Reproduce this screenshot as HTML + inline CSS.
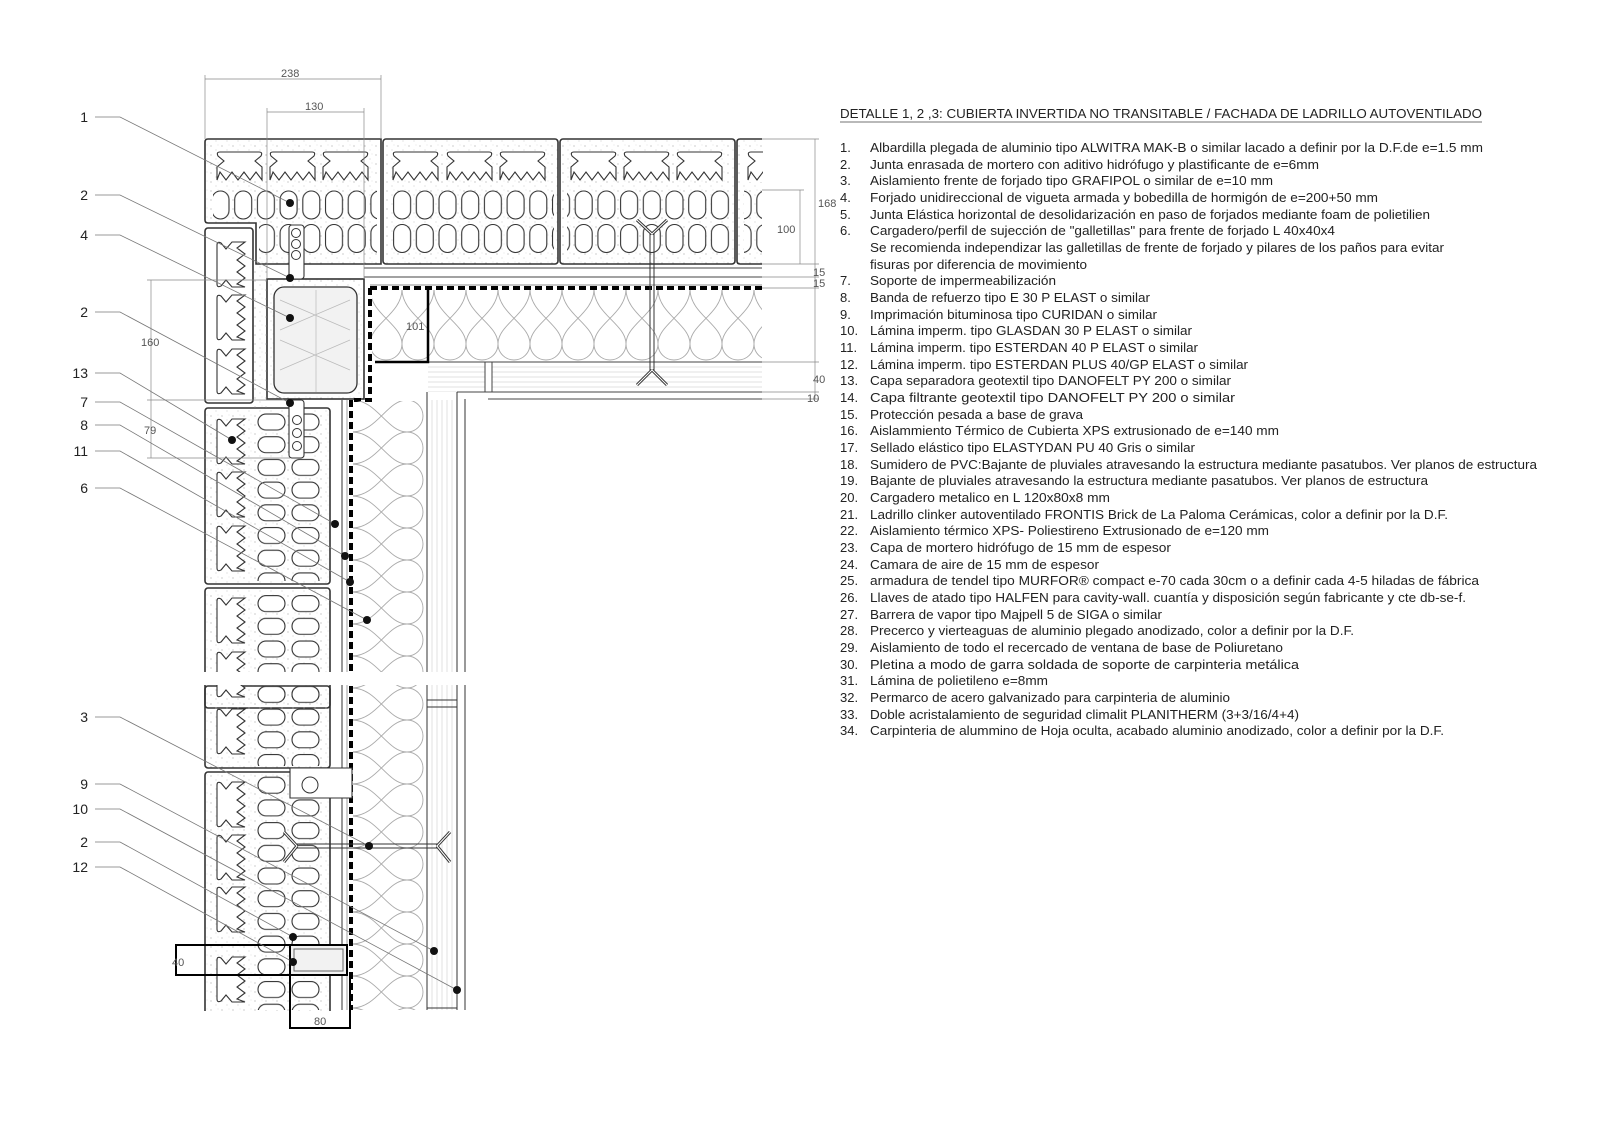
<!DOCTYPE html>
<html><head><meta charset="utf-8"><style>
html,body{margin:0;padding:0;background:#fff;}
svg{display:block;}
.t{font-family:"Liberation Sans",sans-serif;font-size:13px;fill:#222;}
.n{font-family:"Liberation Sans",sans-serif;font-size:14px;fill:#222;text-anchor:end;}
.d{font-family:"Liberation Sans",sans-serif;font-size:11px;fill:#555;}
.ld{stroke:#777;stroke-width:0.8;fill:none;}
.dm{stroke:#888;stroke-width:0.7;fill:none;}
</style></head><body>
<svg width="1612" height="1140" viewBox="0 0 1612 1140" xmlns="http://www.w3.org/2000/svg">
<defs>
<pattern id="stip" patternUnits="userSpaceOnUse" width="11" height="9">
<circle cx="2" cy="2" r="0.6" fill="#aaa"/><circle cx="7" cy="6" r="0.5" fill="#bbb"/><circle cx="9" cy="1" r="0.4" fill="#bbb"/>
</pattern>
<pattern id="hh" patternUnits="userSpaceOnUse" x="210" y="189" width="22.7" height="33.5">
<rect x="2" y="2" width="17" height="28" rx="8.5" fill="#fff" stroke="#333" stroke-width="1.1"/>
</pattern>
<pattern id="hv" patternUnits="userSpaceOnUse" x="257" y="411" width="34" height="22.7">
<rect x="1" y="3" width="27" height="16" rx="8" fill="#fff" stroke="#333" stroke-width="1.1"/>
</pattern>
<pattern id="insH" patternUnits="userSpaceOnUse" x="370" y="289" width="32" height="73">
<path d="M0,0 C0,25 32,35 32,55 A16,16 0 0 1 0,55 C0,35 32,25 32,0" fill="none" stroke="#aaa" stroke-width="0.9"/>
</pattern>
<pattern id="insV" patternUnits="userSpaceOnUse" x="352" y="400" width="76" height="32">
<path d="M0,0 C25,0 35,32 55,32 A16,16 0 0 0 55,0 C35,0 25,32 0,32" fill="none" stroke="#aaa" stroke-width="0.9"/>
</pattern>
<pattern id="vh" patternUnits="userSpaceOnUse" width="5" height="10">
<line x1="2" y1="0" x2="2" y2="10" stroke="#ccc" stroke-width="0.6"/>
</pattern>
<pattern id="hl" patternUnits="userSpaceOnUse" width="10" height="5">
<line x1="0" y1="2" x2="10" y2="2" stroke="#ccc" stroke-width="0.6"/>
</pattern>
<path id="comb" d="M3,0 H42 Q46,0 44,4 L38,9 L45,15 L45,28 L39,20 L33,28 L27,20 L21,28 L15,20 L9,28 L3,20 L0,28 L0,15 L7,9 L1,4 Q-1,0 3,0 Z" fill="#fff" stroke="#333" stroke-width="1.1"/>
</defs>

<!-- TOP BRICK ROW -->
<g stroke="#333" stroke-width="1.6">
<path d="M208,139 H381 V264 H256 V223 H208 Q205,223 205,220 V142 Q205,139 208,139 Z" fill="url(#stip)"/>
<rect x="383" y="139" width="175" height="125" rx="3" fill="url(#stip)"/>
<rect x="560" y="139" width="175" height="125" rx="3" fill="url(#stip)"/>
<path d="M762,139 H740 Q737,139 737,142 V261 Q737,264 740,264 H762" fill="url(#stip)"/>
</g>
<rect x="213" y="189" width="164" height="34" fill="url(#hh)"/>
<rect x="259" y="223" width="118" height="34" fill="url(#hh)"/>
<rect x="390" y="189" width="164" height="68" fill="url(#hh)"/>
<rect x="567" y="189" width="164" height="68" fill="url(#hh)"/>
<rect x="744" y="189" width="18" height="68" fill="url(#hh)"/>
<g>
<use href="#comb" x="217" y="152"/><use href="#comb" x="270" y="152"/><use href="#comb" x="323" y="152"/>
<use href="#comb" x="393" y="152"/><use href="#comb" x="447" y="152"/><use href="#comb" x="500" y="152"/>
<use href="#comb" x="571" y="152"/><use href="#comb" x="624" y="152"/><use href="#comb" x="677" y="152"/>
</g>
<rect x="741" y="150" width="22" height="32" fill="#fff"/>
<use href="#comb" x="748" y="152"/>
<rect x="763" y="140" width="40" height="125" fill="#fff"/>

<!-- horizontal roof layers -->
<g stroke="#444" stroke-width="1">
<line x1="364" y1="268" x2="762" y2="268"/>
<line x1="364" y1="277" x2="762" y2="277"/>
</g>
<rect x="372" y="290" width="390" height="72" fill="url(#insH)"/>
<line x1="370" y1="288" x2="762" y2="288" stroke="#000" stroke-width="4" stroke-dasharray="7,4"/>
<line x1="370" y1="285" x2="762" y2="285" stroke="#666" stroke-width="0.7"/>
<line x1="375" y1="362" x2="762" y2="362" stroke="#444" stroke-width="1"/>
<rect x="428" y="363" width="334" height="29" fill="url(#hl)"/>
<rect x="485" y="362" width="7" height="30" fill="#fff" stroke="#444" stroke-width="1"/>
<line x1="457" y1="392" x2="762" y2="392" stroke="#444" stroke-width="1"/>
<line x1="488" y1="399" x2="762" y2="399" stroke="#444" stroke-width="1"/>
<path d="M375,362 H428 V288" fill="none" stroke="#000" stroke-width="2.5"/>
<text class="d" x="406" y="330">101</text>

<!-- slab front box -->
<rect x="267" y="279" width="97" height="120" fill="url(#stip)" stroke="#333" stroke-width="1.6"/>
<rect x="274" y="287" width="83" height="106" rx="10" fill="#f2f2f2" stroke="#333" stroke-width="1.3"/>
<path d="M280,300 L350,330 M280,330 L350,300 M280,340 L350,370 M280,370 L350,340 M316,290 V392" stroke="#bbb" stroke-width="0.7" fill="none"/>
<path d="M370,288 V400 H351" fill="none" stroke="#000" stroke-width="4" stroke-dasharray="7,4"/>

<!-- VERTICAL WALL -->
<g stroke="#333" stroke-width="1.6">
<rect x="205" y="228" width="48" height="175" rx="3" fill="#fff"/>
<rect x="205" y="408" width="125" height="176" rx="3" fill="url(#stip)"/>
<rect x="205" y="588" width="125" height="120" rx="3" fill="url(#stip)"/>
<rect x="205" y="686" width="125" height="82" rx="3" fill="url(#stip)"/>
<rect x="205" y="772" width="125" height="260" rx="3" fill="url(#stip)"/>
</g>
<rect x="253" y="264" width="14" height="144" fill="url(#stip)"/>
<rect x="257" y="411" width="66" height="170" fill="url(#hv)"/>
<rect x="257" y="590" width="66" height="110" fill="url(#hv)"/>
<rect x="257" y="688" width="66" height="78" fill="url(#hv)"/>
<rect x="257" y="774" width="66" height="236" fill="url(#hv)"/>
<g>
<use href="#comb" transform="translate(217,287) rotate(-90)"/>
<use href="#comb" transform="translate(217,340) rotate(-90)"/>
<use href="#comb" transform="translate(217,394) rotate(-90)"/>
<use href="#comb" transform="translate(217,464) rotate(-90)"/>
<use href="#comb" transform="translate(217,517) rotate(-90)"/>
<use href="#comb" transform="translate(217,571) rotate(-90)"/>
<use href="#comb" transform="translate(217,643) rotate(-90)"/>
<use href="#comb" transform="translate(217,697) rotate(-90)"/>
<use href="#comb" transform="translate(217,754) rotate(-90)"/>
<use href="#comb" transform="translate(217,827) rotate(-90)"/>
<use href="#comb" transform="translate(217,880) rotate(-90)"/>
<use href="#comb" transform="translate(217,932) rotate(-90)"/>
<use href="#comb" transform="translate(217,1002) rotate(-90)"/>
</g>
<line x1="342" y1="400" x2="342" y2="1010" stroke="#333" stroke-width="1"/>
<line x1="347" y1="400" x2="347" y2="1010" stroke="#777" stroke-width="0.7"/>
<rect x="353" y="401" width="74" height="609" fill="url(#insV)"/>
<line x1="351" y1="400" x2="351" y2="1010" stroke="#000" stroke-width="4" stroke-dasharray="7,4"/>
<line x1="427" y1="392" x2="427" y2="1010" stroke="#333" stroke-width="1"/>
<rect x="428" y="400" width="29" height="610" fill="url(#vh)"/>
<line x1="457" y1="392" x2="457" y2="1010" stroke="#333" stroke-width="1"/>
<line x1="465" y1="399" x2="465" y2="1010" stroke="#333" stroke-width="1"/>
<line x1="427" y1="1008" x2="457" y2="1008" stroke="#333" stroke-width="1"/>
<line x1="427" y1="700" x2="457" y2="700" stroke="#333" stroke-width="1"/>
<line x1="427" y1="707" x2="457" y2="707" stroke="#333" stroke-width="1"/>

<!-- galletillas -->
<rect x="289" y="225" width="15" height="54" rx="3" fill="#fff" stroke="#333" stroke-width="1.1"/>
<circle cx="296" cy="233" r="4.5" fill="#fff" stroke="#333"/><circle cx="296" cy="244" r="4.5" fill="#fff" stroke="#333"/><circle cx="296" cy="255" r="4.5" fill="#fff" stroke="#333"/>
<rect x="289" y="400" width="15" height="58" rx="3" fill="#fff" stroke="#333" stroke-width="1.1"/>
<circle cx="297" cy="420" r="4.5" fill="#fff" stroke="#333"/><circle cx="297" cy="433" r="4.5" fill="#fff" stroke="#333"/><circle cx="297" cy="446" r="4.5" fill="#fff" stroke="#333"/>
<path d="M290,768 H352 V798 H297 V798 H290 Z" fill="#fff" stroke="#333" stroke-width="1.1"/>
<circle cx="310" cy="785" r="8" fill="#fff" stroke="#333"/>

<rect x="195" y="672" width="280" height="13" fill="#fff"/>
<rect x="195" y="1011" width="280" height="30" fill="#fff"/>

<!-- lintel -->
<rect x="176" y="945" width="114" height="30" fill="none" stroke="#000" stroke-width="2"/>
<rect x="290" y="945" width="57" height="30" fill="#f2f2f2" stroke="#000" stroke-width="2"/>
<rect x="294" y="949" width="49" height="22" fill="none" stroke="#666" stroke-width="1"/>
<path d="M290,975 V1028 H350 V975" fill="none" stroke="#000" stroke-width="2"/>
<text class="d" x="172" y="966">40</text>
<text class="d" x="314" y="1025">80</text>

<!-- ties -->
<g stroke="#333" stroke-width="1" fill="none">
<line x1="650" y1="232" x2="650" y2="372"/><line x1="654" y1="232" x2="654" y2="372"/>
<path d="M652,234 L637,220 M652,234 L667,220 M652,370 L637,385 M652,370 L667,385" stroke-width="3"/>
<line x1="297" y1="844" x2="437" y2="844"/><line x1="297" y1="848" x2="437" y2="848"/>
<path d="M297,846 L284,832 M297,846 L284,862 M437,846 L450,832 M437,846 L450,862" stroke-width="3"/>
</g>
<g stroke="#fff" stroke-width="1" fill="none">
<path d="M652,234 L637,220 M652,234 L667,220 M652,370 L637,385 M652,370 L667,385 M297,846 L284,832 M297,846 L284,862 M437,846 L450,832 M437,846 L450,862"/>
</g>

<!-- dimensions -->
<g class="dm">
<line x1="205" y1="79" x2="381" y2="79"/><line x1="205" y1="75" x2="205" y2="139"/><line x1="381" y1="75" x2="381" y2="139"/>
<line x1="267" y1="112" x2="364" y2="112"/><line x1="267" y1="108" x2="267" y2="279"/><line x1="364" y1="108" x2="364" y2="279"/>
<line x1="151" y1="280" x2="151" y2="458"/><line x1="147" y1="280" x2="267" y2="280"/><line x1="147" y1="400" x2="290" y2="400"/><line x1="147" y1="458" x2="290" y2="458"/>
<line x1="815" y1="139" x2="815" y2="264"/><line x1="762" y1="139" x2="819" y2="139"/>
<line x1="800" y1="190" x2="800" y2="264"/><line x1="762" y1="190" x2="804" y2="190"/>
<line x1="762" y1="264" x2="819" y2="264"/><line x1="762" y1="277" x2="819" y2="277"/><line x1="762" y1="288" x2="819" y2="288"/>
<line x1="762" y1="362" x2="819" y2="362"/><line x1="762" y1="392" x2="819" y2="392"/><line x1="762" y1="399" x2="819" y2="399"/>
<line x1="815" y1="264" x2="815" y2="399"/>
</g>
<text class="d" x="281" y="77">238</text>
<text class="d" x="305" y="110">130</text>
<text class="d" x="141" y="346">160</text>
<text class="d" x="144" y="434">79</text>
<text class="d" x="818" y="207">168</text>
<text class="d" x="777" y="233">100</text>
<text class="d" x="813" y="276">15</text>
<text class="d" x="813" y="287">15</text>
<text class="d" x="813" y="383">40</text>
<text class="d" x="807" y="402">10</text>

<!-- leaders -->
<g class="ld">
<path d="M95,117 H120 L290,203"/>
<path d="M95,195 H120 L290,278"/>
<path d="M95,235 H120 L290,318"/>
<path d="M95,312 H120 L290,403"/>
<path d="M95,373 H120 L232,440"/>
<path d="M95,402 H120 L335,524"/>
<path d="M95,425 H120 L345,556"/>
<path d="M95,451 H120 L350,582"/>
<path d="M95,488 H120 L367,620"/>
<path d="M95,717 H120 L369,846"/>
<path d="M95,784 H120 L434,951"/>
<path d="M95,809 H120 L457,990"/>
<path d="M95,842 H120 L293,937"/>
<path d="M95,867 H120 L293,962"/>
</g>
<g fill="#111">
<circle cx="290" cy="203" r="4"/><circle cx="290" cy="278" r="4"/><circle cx="290" cy="318" r="4"/><circle cx="290" cy="403" r="4"/>
<circle cx="232" cy="440" r="4"/><circle cx="335" cy="524" r="4"/><circle cx="345" cy="556" r="4"/><circle cx="350" cy="582" r="4"/>
<circle cx="367" cy="620" r="4"/><circle cx="369" cy="846" r="4"/><circle cx="434" cy="951" r="4"/><circle cx="457" cy="990" r="4"/>
<circle cx="293" cy="937" r="4"/><circle cx="293" cy="962" r="4"/>
</g>
<g>
<text class="n" x="88" y="122">1</text>
<text class="n" x="88" y="200">2</text>
<text class="n" x="88" y="240">4</text>
<text class="n" x="88" y="317">2</text>
<text class="n" x="88" y="378">13</text>
<text class="n" x="88" y="407">7</text>
<text class="n" x="88" y="430">8</text>
<text class="n" x="88" y="456">11</text>
<text class="n" x="88" y="493">6</text>
<text class="n" x="88" y="722">3</text>
<text class="n" x="88" y="789">9</text>
<text class="n" x="88" y="814">10</text>
<text class="n" x="88" y="847">2</text>
<text class="n" x="88" y="872">12</text>
</g>

<!-- TEXT LIST -->
<g transform="translate(-4,0)">
<text class="t" x="844" y="118" textLength="642" lengthAdjust="spacingAndGlyphs">DETALLE 1, 2 ,3:  CUBIERTA INVERTIDA NO TRANSITABLE / FACHADA DE LADRILLO AUTOVENTILADO</text>
<line x1="844" y1="122" x2="1486" y2="122" stroke="#444" stroke-width="0.8"/>
<g class="t">
<text x="844" y="152">1.</text><text x="874" y="152" textLength="613" lengthAdjust="spacingAndGlyphs">Albardilla plegada de aluminio tipo ALWITRA MAK-B o similar lacado a definir por la D.F.de e=1.5 mm</text>
<text x="844" y="169">2.</text><text x="874" y="169" textLength="449" lengthAdjust="spacingAndGlyphs">Junta enrasada de mortero con aditivo hidrófugo y plastificante de e=6mm</text>
<text x="844" y="185">3.</text><text x="874" y="185" textLength="403" lengthAdjust="spacingAndGlyphs">Aislamiento frente de forjado tipo GRAFIPOL o similar de e=10 mm</text>
<text x="844" y="202">4.</text><text x="874" y="202" textLength="508" lengthAdjust="spacingAndGlyphs">Forjado unidireccional de vigueta armada y bobedilla de hormigón de e=200+50 mm</text>
<text x="844" y="219">5.</text><text x="874" y="219" textLength="560" lengthAdjust="spacingAndGlyphs">Junta Elástica horizontal de desolidarización en paso de forjados mediante foam de polietilien</text>
<text x="844" y="235">6.</text><text x="874" y="235" textLength="465" lengthAdjust="spacingAndGlyphs">Cargadero/perfil de sujección de "galletillas" para frente de forjado L 40x40x4</text>
<text x="874" y="252" textLength="574" lengthAdjust="spacingAndGlyphs">Se recomienda independizar las galletillas de frente de forjado y pilares de los paños para evitar</text>
<text x="874" y="269" textLength="217" lengthAdjust="spacingAndGlyphs">fisuras por diferencia de movimiento</text>
<text x="844" y="285">7.</text><text x="874" y="285" textLength="186" lengthAdjust="spacingAndGlyphs">Soporte de impermeabilización</text>
<text x="844" y="302">8.</text><text x="874" y="302" textLength="280" lengthAdjust="spacingAndGlyphs">Banda de refuerzo tipo E 30 P ELAST o similar</text>
<text x="844" y="319">9.</text><text x="874" y="319" textLength="287" lengthAdjust="spacingAndGlyphs">Imprimación bituminosa tipo CURIDAN o similar</text>
<text x="844" y="335">10.</text><text x="874" y="335" textLength="322" lengthAdjust="spacingAndGlyphs">Lámina imperm. tipo GLASDAN 30 P ELAST o similar</text>
<text x="844" y="352">11.</text><text x="874" y="352" textLength="328" lengthAdjust="spacingAndGlyphs">Lámina imperm. tipo ESTERDAN 40 P ELAST o similar</text>
<text x="844" y="369">12.</text><text x="874" y="369" textLength="378" lengthAdjust="spacingAndGlyphs">Lámina imperm. tipo ESTERDAN PLUS 40/GP ELAST o similar</text>
<text x="844" y="385">13.</text><text x="874" y="385" textLength="361" lengthAdjust="spacingAndGlyphs">Capa separadora geotextil tipo DANOFELT PY 200 o similar</text>
<text x="844" y="402">14.</text><text x="874" y="402" textLength="365" lengthAdjust="spacingAndGlyphs">Capa filtrante geotextil tipo DANOFELT PY 200 o similar</text>
<text x="844" y="419">15.</text><text x="874" y="419" textLength="213" lengthAdjust="spacingAndGlyphs">Protección pesada a base de grava</text>
<text x="844" y="435">16.</text><text x="874" y="435" textLength="409" lengthAdjust="spacingAndGlyphs">Aislammiento Térmico de Cubierta XPS extrusionado de e=140 mm</text>
<text x="844" y="452">17.</text><text x="874" y="452" textLength="325" lengthAdjust="spacingAndGlyphs">Sellado elástico tipo ELASTYDAN PU 40 Gris o similar</text>
<text x="844" y="469">18.</text><text x="874" y="469" textLength="667" lengthAdjust="spacingAndGlyphs">Sumidero de PVC:Bajante de pluviales atravesando la estructura mediante pasatubos. Ver planos de estructura</text>
<text x="844" y="485">19.</text><text x="874" y="485" textLength="558" lengthAdjust="spacingAndGlyphs">Bajante de pluviales atravesando la estructura mediante pasatubos. Ver planos de estructura</text>
<text x="844" y="502">20.</text><text x="874" y="502" textLength="240" lengthAdjust="spacingAndGlyphs">Cargadero metalico en L 120x80x8 mm</text>
<text x="844" y="519">21.</text><text x="874" y="519" textLength="578" lengthAdjust="spacingAndGlyphs">Ladrillo clinker autoventilado FRONTIS Brick de La Paloma Cerámicas, color a definir por la D.F.</text>
<text x="844" y="535">22.</text><text x="874" y="535" textLength="399" lengthAdjust="spacingAndGlyphs">Aislamiento térmico XPS- Poliestireno Extrusionado de e=120 mm</text>
<text x="844" y="552">23.</text><text x="874" y="552" textLength="301" lengthAdjust="spacingAndGlyphs">Capa de mortero hidrófugo de 15 mm de espesor</text>
<text x="844" y="569">24.</text><text x="874" y="569" textLength="229" lengthAdjust="spacingAndGlyphs">Camara de aire de 15 mm de espesor</text>
<text x="844" y="585">25.</text><text x="874" y="585" textLength="609" lengthAdjust="spacingAndGlyphs">armadura de tendel tipo MURFOR® compact e-70 cada 30cm o a definir cada 4-5 hiladas de fábrica</text>
<text x="844" y="602">26.</text><text x="874" y="602" textLength="596" lengthAdjust="spacingAndGlyphs">Llaves de atado tipo HALFEN para cavity-wall. cuantía y disposición según fabricante y cte db-se-f.</text>
<text x="844" y="619">27.</text><text x="874" y="619" textLength="292" lengthAdjust="spacingAndGlyphs">Barrera de vapor tipo Majpell 5 de SIGA o similar</text>
<text x="844" y="635">28.</text><text x="874" y="635" textLength="484" lengthAdjust="spacingAndGlyphs">Precerco y vierteaguas de aluminio plegado anodizado, color a definir por la D.F.</text>
<text x="844" y="652">29.</text><text x="874" y="652" textLength="413" lengthAdjust="spacingAndGlyphs">Aislamiento de todo el recercado de ventana de base de Poliuretano</text>
<text x="844" y="669">30.</text><text x="874" y="669" textLength="429" lengthAdjust="spacingAndGlyphs">Pletina a modo de garra soldada de soporte de carpinteria metálica</text>
<text x="844" y="685">31.</text><text x="874" y="685" textLength="178" lengthAdjust="spacingAndGlyphs">Lámina de polietileno e=8mm</text>
<text x="844" y="702">32.</text><text x="874" y="702" textLength="360" lengthAdjust="spacingAndGlyphs">Permarco de acero galvanizado para carpinteria de aluminio</text>
<text x="844" y="719">33.</text><text x="874" y="719" textLength="429" lengthAdjust="spacingAndGlyphs">Doble acristalamiento de seguridad climalit PLANITHERM (3+3/16/4+4)</text>
<text x="844" y="735">34.</text><text x="874" y="735" textLength="574" lengthAdjust="spacingAndGlyphs">Carpinteria de alummino de Hoja oculta, acabado aluminio anodizado, color a definir por la D.F.</text>
</g>
</g>
</svg>
</body></html>
